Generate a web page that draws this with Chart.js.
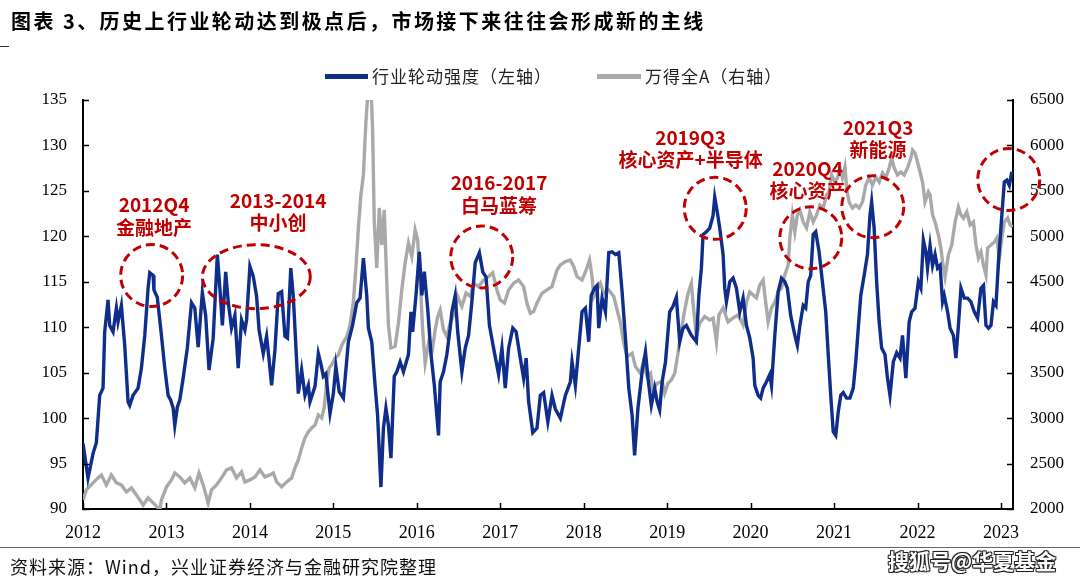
<!DOCTYPE html>
<html>
<head>
<meta charset="utf-8">
<script src="https://cdn.jsdelivr.net/npm/chart.js@4.4.0/dist/chart.umd.min.js"></script>
<style>
  body { margin: 0; background: #fff; }
  #page { position: relative; width: 1080px; height: 583px; overflow: hidden; font-family: "Noto Sans CJK SC", sans-serif; }
  #box { position: absolute; left: 0; top: 0; width: 1080px; height: 583px; }
  .title { position: absolute; left: 11px; top: 11px; font-size: 20px; line-height: 20px; font-weight: bold; letter-spacing: 2.45px; color: #000; white-space: nowrap; }
  .dash { position: absolute; left: 0; top: 46px; width: 9px; height: 1px; background: #333; }
  .legend { position: absolute; top: 66px; font-size: 17px; line-height: 20px; letter-spacing: 1px; color: #222; white-space: nowrap; }
  .swatch { position: absolute; top: 74px; height: 5px; }
  .rule { position: absolute; left: 0; top: 547px; width: 1080px; height: 1px; background: #666; }
  .source { position: absolute; left: 10px; top: 557px; font-size: 18px; line-height: 18px; letter-spacing: 1px; color: #111; white-space: nowrap; }
  .mark { position: absolute; left: 888px; top: 549px; font-size: 21px; line-height: 22px; font-weight: bold; color: #fff; white-space: nowrap;
          text-shadow: -1px -1px 0 #222, 1px -1px 0 #222, -1px 1px 0 #222, 1px 1px 0 #222, 0 0 2px #000; }
</style>
</head>
<body>
<div id="page">
  <div id="box"><canvas id="rotationChart"></canvas></div>
  <div class="title">图表 3、历史上行业轮动达到极点后，市场接下来往往会形成新的主线</div>
  <div class="dash"></div>
  <div class="swatch" style="left:325px;width:43px;background:#0f2d8a;"></div>
  <div class="legend" style="left:372px;">行业轮动强度（左轴）</div>
  <div class="swatch" style="left:597px;width:44px;background:#a9a9a9;"></div>
  <div class="legend" style="left:645px;">万得全A（右轴）</div>
  <div class="rule"></div>
  <div class="source">资料来源：Wind，兴业证券经济与金融研究院整理</div>
  <div class="mark">搜狐号@华夏基金</div>
</div>
<script>
// Industry rotation strength (left axis), dates as decimal years
const rotationDates = [
  2012.00, 2012.06, 2012.12, 2012.16, 2012.20, 2012.24, 2012.26, 2012.30, 2012.32, 2012.36,
  2012.40, 2012.42, 2012.46, 2012.50, 2012.54, 2012.56, 2012.60, 2012.66, 2012.70, 2012.74,
  2012.78, 2012.80, 2012.84, 2012.85, 2012.89, 2012.94, 2012.98, 2013.02, 2013.05, 2013.08,
  2013.10, 2013.13, 2013.16, 2013.20, 2013.25, 2013.30, 2013.34, 2013.38, 2013.43, 2013.47,
  2013.51, 2013.56, 2013.61, 2013.64, 2013.67, 2013.71, 2013.74, 2013.78, 2013.82, 2013.86,
  2013.90, 2013.94, 2013.96, 2014.00, 2014.04, 2014.08, 2014.11, 2014.16, 2014.20, 2014.23,
  2014.26, 2014.30, 2014.34, 2014.38, 2014.42, 2014.45, 2014.49, 2014.52, 2014.58, 2014.62,
  2014.66, 2014.70, 2014.72, 2014.78, 2014.82, 2014.85, 2014.88, 2014.91, 2014.96, 2015.00,
  2015.03, 2015.07, 2015.12, 2015.18, 2015.23, 2015.28, 2015.32, 2015.36, 2015.40, 2015.42,
  2015.46, 2015.50, 2015.53, 2015.57, 2015.60, 2015.63, 2015.66, 2015.69, 2015.73, 2015.76,
  2015.80, 2015.84, 2015.90, 2015.93, 2015.95, 2015.99, 2016.03, 2016.06, 2016.09, 2016.13,
  2016.17, 2016.21, 2016.26, 2016.28, 2016.32, 2016.36, 2016.40, 2016.42, 2016.46, 2016.49,
  2016.54, 2016.58, 2016.62, 2016.66, 2016.70, 2016.75, 2016.79, 2016.83, 2016.87, 2016.92,
  2016.98, 2017.02, 2017.06, 2017.10, 2017.15, 2017.19, 2017.24, 2017.28, 2017.31, 2017.34,
  2017.39, 2017.44, 2017.48, 2017.52, 2017.57, 2017.62, 2017.66, 2017.72, 2017.78, 2017.84,
  2017.86, 2017.90, 2017.94, 2017.98, 2018.02, 2018.06, 2018.09, 2018.13, 2018.16, 2018.18,
  2018.22, 2018.26, 2018.30, 2018.34, 2018.38, 2018.42, 2018.46, 2018.50, 2018.54, 2018.58,
  2018.61, 2018.65, 2018.70, 2018.74, 2018.77, 2018.81, 2018.85, 2018.88, 2018.91, 2018.94,
  2018.98, 2019.03, 2019.07, 2019.11, 2019.15, 2019.19, 2019.23, 2019.29, 2019.35, 2019.38,
  2019.41, 2019.43, 2019.47, 2019.51, 2019.55, 2019.57, 2019.60, 2019.63, 2019.67, 2019.69,
  2019.71, 2019.75, 2019.79, 2019.83, 2019.87, 2019.91, 2019.95, 2019.99, 2020.03, 2020.05,
  2020.09, 2020.12, 2020.15, 2020.19, 2020.23, 2020.25, 2020.29, 2020.33, 2020.37, 2020.41,
  2020.44, 2020.48, 2020.53, 2020.56, 2020.59, 2020.63, 2020.66, 2020.69, 2020.72, 2020.75,
  2020.78, 2020.82, 2020.86, 2020.90, 2020.93, 2020.96, 2020.99, 2021.02, 2021.05, 2021.08,
  2021.11, 2021.15, 2021.19, 2021.23, 2021.26, 2021.29, 2021.32, 2021.36, 2021.40, 2021.43,
  2021.45, 2021.48, 2021.51, 2021.54, 2021.57, 2021.61, 2021.64, 2021.67, 2021.71, 2021.75,
  2021.79, 2021.82, 2021.86, 2021.90, 2021.93, 2021.97, 2022.01, 2022.04, 2022.07, 2022.10,
  2022.12, 2022.15, 2022.18, 2022.21, 2022.24, 2022.27, 2022.30, 2022.32, 2022.36, 2022.39,
  2022.43, 2022.46, 2022.49, 2022.52, 2022.56, 2022.60, 2022.64, 2022.68, 2022.72, 2022.76,
  2022.79, 2022.82, 2022.85, 2022.88, 2022.91, 2022.94, 2022.97, 2023.01, 2023.04, 2023.07,
  2023.10, 2023.13
];
const rotationValues = [
  97.2, 93.4, 96.1, 97.3, 102.5, 103.3, 109.5, 113.0, 110.2, 109.5,
  112.1, 110.6, 112.4, 108.0, 101.8, 101.4, 102.5, 103.3, 105.5, 109.1,
  114.3, 116.0, 115.7, 114.1, 113.3, 109.1, 105.5, 102.5, 102.0, 101.1,
  99.2, 101.2, 102.0, 104.4, 107.7, 112.7, 112.1, 107.8, 113.8, 111.3,
  105.3, 108.8, 118.0, 114.3, 110.2, 116.1, 112.8, 109.9, 111.3, 105.5,
  110.8, 109.7, 110.8, 116.7, 115.6, 113.4, 109.7, 107.1, 109.0, 106.4,
  103.6, 107.5, 113.7, 113.9, 109.0, 108.8, 116.5, 113.4, 102.7, 105.3,
  102.5, 103.6, 101.8, 103.5, 107.1, 106.0, 104.6, 104.9, 100.5, 102.7,
  105.7, 102.9, 102.2, 108.4, 110.2, 112.7, 113.2, 117.6, 113.5, 109.9,
  108.4, 103.6, 100.3, 92.4, 98.9, 101.1, 99.2, 95.6, 104.6, 105.1,
  106.2, 105.1, 107.0, 111.7, 109.5, 113.5, 118.3, 113.5, 116.1, 112.1,
  107.0, 103.6, 98.1, 104.0, 105.1, 107.0, 109.9, 111.7, 113.5, 109.5,
  105.1, 107.7, 109.1, 112.8, 117.1, 118.2, 116.1, 115.5, 110.2, 107.7,
  104.8, 107.7, 103.3, 107.7, 109.9, 109.5, 106.6, 104.4, 106.6, 101.8,
  98.4, 98.9, 102.5, 102.8, 99.6, 102.5, 101.0, 100.0, 102.5, 104.0,
  106.2, 103.6, 107.7, 111.7, 112.1, 108.4, 113.5, 114.3, 114.6, 109.9,
  113.2, 111.7, 118.2, 118.3, 118.0, 118.2, 113.9, 108.8, 103.3, 100.3,
  95.9, 101.1, 105.1, 107.3, 104.4, 101.4, 103.3, 101.8, 100.9, 104.0,
  106.2, 111.7, 112.3, 113.3, 108.4, 109.9, 110.2, 109.1, 108.4, 113.5,
  116.5, 120.2, 120.5, 120.9, 122.3, 124.3, 122.7, 120.9, 118.0, 114.3,
  112.8, 115.0, 115.4, 114.3, 111.7, 113.2, 110.2, 108.8, 106.6, 103.6,
  102.5, 102.2, 103.3, 104.0, 104.8, 103.6, 109.1, 113.9, 115.4, 115.0,
  114.3, 111.3, 109.1, 108.0, 110.2, 112.4, 112.1, 115.0, 115.7, 120.2,
  120.5, 118.3, 115.0, 111.7, 107.0, 102.5, 98.5, 98.1, 100.7, 102.5,
  102.8, 102.2, 102.2, 103.3, 106.2, 109.9, 113.5, 115.7, 118.0, 122.3,
  123.8, 120.9, 115.0, 110.6, 107.7, 107.0, 104.4, 102.5, 106.2, 107.2,
  106.6, 109.1, 104.4, 110.6, 111.7, 112.1, 115.0, 114.3, 119.6, 118.3,
  116.5, 119.0, 116.8, 118.0, 116.5, 116.8, 112.8, 113.5, 111.7, 109.9,
  109.1, 106.6, 110.2, 114.3, 113.2, 113.2, 112.8, 111.7, 111.0, 114.3,
  114.6, 110.2, 109.9, 110.2, 112.8, 112.4, 117.2, 122.3, 126.0, 126.2,
  125.6, 127.1
];

// Wind All A index (right axis)
const windDates = [
  2012.00, 2012.04, 2012.12, 2012.18, 2012.22, 2012.28, 2012.34, 2012.40, 2012.46, 2012.52,
  2012.58, 2012.64, 2012.68, 2012.72, 2012.78, 2012.84, 2012.90, 2012.92, 2012.94, 2013.00,
  2013.06, 2013.10, 2013.16, 2013.22, 2013.28, 2013.34, 2013.39, 2013.44, 2013.50, 2013.54,
  2013.60, 2013.66, 2013.72, 2013.78, 2013.84, 2013.90, 2013.94, 2014.00, 2014.06, 2014.12,
  2014.18, 2014.24, 2014.28, 2014.32, 2014.38, 2014.44, 2014.50, 2014.54, 2014.58, 2014.62,
  2014.66, 2014.70, 2014.74, 2014.78, 2014.82, 2014.86, 2014.89, 2014.92, 2014.95, 2014.98,
  2015.02, 2015.06, 2015.09, 2015.12, 2015.16, 2015.20, 2015.24, 2015.27, 2015.30, 2015.33,
  2015.36, 2015.39, 2015.42, 2015.45, 2015.47, 2015.49, 2015.52, 2015.55, 2015.58, 2015.61,
  2015.64, 2015.66, 2015.69, 2015.74, 2015.78, 2015.82, 2015.86, 2015.90, 2015.94, 2015.98,
  2016.01, 2016.04, 2016.07, 2016.10, 2016.14, 2016.18, 2016.22, 2016.25, 2016.28, 2016.32,
  2016.36, 2016.40, 2016.45, 2016.49, 2016.54, 2016.59, 2016.64, 2016.68, 2016.74, 2016.80,
  2016.86, 2016.91, 2016.96, 2017.00, 2017.05, 2017.10, 2017.16, 2017.22, 2017.28, 2017.32,
  2017.36, 2017.40, 2017.44, 2017.50, 2017.56, 2017.62, 2017.68, 2017.72, 2017.78, 2017.84,
  2017.88, 2017.92, 2017.98, 2018.03, 2018.07, 2018.10, 2018.12, 2018.16, 2018.20, 2018.24,
  2018.30, 2018.36, 2018.40, 2018.44, 2018.48, 2018.52, 2018.58, 2018.62, 2018.68, 2018.71,
  2018.76, 2018.80, 2018.83, 2018.88, 2018.94, 2018.97, 2019.01, 2019.05, 2019.09, 2019.13,
  2019.17, 2019.21, 2019.25, 2019.29, 2019.31, 2019.35, 2019.39, 2019.45, 2019.51, 2019.55,
  2019.59, 2019.62, 2019.67, 2019.73, 2019.79, 2019.85, 2019.91, 2019.95, 2019.99, 2020.03,
  2020.07, 2020.11, 2020.15, 2020.18, 2020.21, 2020.25, 2020.29, 2020.33, 2020.37, 2020.41,
  2020.45, 2020.47, 2020.50, 2020.53, 2020.56, 2020.59, 2020.63, 2020.67, 2020.71, 2020.75,
  2020.79, 2020.83, 2020.87, 2020.91, 2020.94, 2020.97, 2021.01, 2021.04, 2021.07, 2021.10,
  2021.13, 2021.15, 2021.18, 2021.22, 2021.26, 2021.30, 2021.34, 2021.38, 2021.42, 2021.46,
  2021.50, 2021.54, 2021.58, 2021.62, 2021.66, 2021.69, 2021.72, 2021.76, 2021.80, 2021.84,
  2021.88, 2021.92, 2021.94, 2021.97, 2022.00, 2022.03, 2022.06, 2022.09, 2022.13, 2022.15,
  2022.18, 2022.21, 2022.25, 2022.28, 2022.30, 2022.33, 2022.37, 2022.41, 2022.45, 2022.49,
  2022.52, 2022.55, 2022.59, 2022.63, 2022.67, 2022.70, 2022.73, 2022.76, 2022.79, 2022.82,
  2022.84, 2022.88, 2022.92, 2022.95, 2022.98, 2023.01, 2023.04, 2023.08, 2023.11, 2023.14
];
const windValues = [
  2100, 2210, 2287, 2342, 2375, 2265, 2375, 2287, 2265, 2188,
  2232, 2155, 2100, 2045, 2122, 2067, 2012, 1990, 2100, 2243,
  2320, 2397, 2353, 2287, 2342, 2232, 2397, 2265, 2067, 2210,
  2265, 2342, 2430, 2452, 2342, 2408, 2298, 2320, 2353, 2430,
  2353, 2375, 2397, 2298, 2243, 2298, 2342, 2452, 2540, 2672,
  2782, 2848, 2892, 2925, 3035, 3002, 3112, 3398, 3552, 3585,
  3662, 3695, 3772, 3838, 3893, 4025, 4278, 4652, 5092, 5455,
  5675, 6258, 6650, 6650, 6192, 5158, 4652, 5312, 4905, 5290,
  4498, 4025, 3772, 3790, 4047, 4410, 4707, 4927, 4777, 5070,
  4960, 4520, 3970, 3607, 3823, 3717, 3970, 4117, 4190, 3970,
  3897, 4047, 4157, 4337, 4227, 4377, 4340, 4483, 4447, 4520,
  4557, 4597, 4410, 4300, 4267, 4410, 4483, 4520, 4447, 4263,
  4153, 4172, 4267, 4373, 4410, 4447, 4630, 4685, 4722, 4740,
  4667, 4557, 4520, 4630, 4740, 4557, 4337, 4410, 4483, 4373,
  4410, 4337, 4190, 4047, 3823, 3677, 3713, 3567, 3493, 3603,
  3457, 3493, 3310, 3383, 3402, 3273, 3383, 3420, 3493, 3713,
  3970, 4190, 4373, 4483, 4263, 3897, 4043, 4117, 4080, 4100,
  3840, 4135, 4212, 4058, 4102, 4135, 4025, 4278, 4388, 4355,
  4322, 4465, 4520, 4278, 4058, 4212, 4278, 4388, 4432, 4575,
  4685, 4982, 5235, 5048, 5235, 5290, 5158, 5092, 5268, 5158,
  5235, 5345, 5312, 5455, 5488, 5675, 5598, 5642, 5752, 5642,
  5763, 5532, 5378, 5312, 5345, 5312, 5378, 5565, 5642, 5565,
  5653, 5598, 5697, 5642, 5752, 5862, 5752, 5675, 5708, 5675,
  5752, 5862, 5950, 5917, 5818, 5708, 5598, 5378, 5488, 5455,
  5235, 5158, 5015, 4872, 4718, 4553, 4795, 4905, 5158, 5323,
  5235, 5200, 5268, 5125, 5158, 4905, 4762, 4828, 4685, 4575,
  4872, 4905, 4938, 4982, 4762, 4982, 5158, 5202, 5125, 5103
];

const yearTicks = [2012, 2013, 2014, 2015, 2016, 2017, 2018, 2019, 2020, 2021, 2022, 2023];

// Highlighted episodes: circle centre and label position in (year, left-axis) units
const highlights = [
  { x: 2012.823, y: 115.69, rx: 31, ry: 31, tx: 2012.851, ty: 123.45, lines: ["2012Q4", "金融地产"] },
  { x: 2014.077, y: 115.56, rx: 54, ry: 32, tx: 2014.337, ty: 123.94, lines: ["2013-2014", "中小创"] },
  { x: 2016.778, y: 117.73, rx: 31, ry: 31, tx: 2016.985, ty: 125.87, lines: ["2016-2017", "白马蓝筹"] },
  { x: 2019.576, y: 123.08, rx: 31, ry: 31, tx: 2019.280, ty: 130.87, lines: ["2019Q3", "核心资产+半导体"] },
  { x: 2020.721, y: 119.84, rx: 31, ry: 31, tx: 2020.682, ty: 127.46, lines: ["2020Q4", "核心资产"] },
  { x: 2021.464, y: 123.26, rx: 31, ry: 31, tx: 2021.527, ty: 131.97, lines: ["2021Q3", "新能源"] },
  { x: 2023.093, y: 126.25, rx: 31, ry: 31, lines: [] }
];

const rotationPoints = rotationDates.map((d, i) => ({ x: d, y: rotationValues[i] }));
const windPoints = windDates.map((d, i) => ({ x: d, y: windValues[i] }));

// short tick marks pointing into the plot
const innerTicks = {
  id: "innerTicks",
  afterDraw(chart) {
    const { ctx, chartArea, scales } = chart;
    ctx.save();
    ctx.strokeStyle = "#000";
    ctx.lineWidth = 1.5;
    ctx.beginPath();
    scales.x.ticks.forEach((t) => {
      const px = Math.round(scales.x.getPixelForValue(t.value)) + 0.5;
      ctx.moveTo(px, chartArea.bottom);
      ctx.lineTo(px, chartArea.bottom - 6);
    });
    scales.y.ticks.forEach((t) => {
      const py = Math.round(scales.y.getPixelForValue(t.value)) + 0.5;
      ctx.moveTo(chartArea.left, py);
      ctx.lineTo(chartArea.left + 6, py);
    });
    scales.y1.ticks.forEach((t) => {
      const py = Math.round(scales.y1.getPixelForValue(t.value)) + 0.5;
      ctx.moveTo(chartArea.right, py);
      ctx.lineTo(chartArea.right - 6, py);
    });
    ctx.stroke();
    ctx.restore();
  },
};

// red dashed circles and captions
const episodeMarks = {
  id: "episodeMarks",
  afterDatasetsDraw(chart) {
    const { ctx, scales } = chart;
    ctx.save();
    ctx.strokeStyle = "#c00000";
    ctx.fillStyle = "#c00000";
    ctx.lineWidth = 3;
    ctx.setLineDash([9, 5]);
    highlights.forEach((h) => {
      const cx = scales.x.getPixelForValue(h.x);
      const cy = scales.y.getPixelForValue(h.y);
      ctx.beginPath();
      ctx.ellipse(cx, cy, h.rx, h.ry, 0, 0, Math.PI * 2);
      ctx.stroke();
    });
    ctx.setLineDash([]);
    ctx.font = 'bold 19px "Noto Sans CJK SC"';
    ctx.textAlign = "center";
    ctx.textBaseline = "middle";
    highlights.forEach((h) => {
      if (!h.lines.length) return;
      const tx = scales.x.getPixelForValue(h.tx);
      const ty = scales.y.getPixelForValue(h.ty);
      h.lines.forEach((line, i) => ctx.fillText(line, tx, ty + i * 22.5));
    });
    ctx.restore();
  },
};

const tickFont = { family: "Liberation Serif", size: 17 };

new Chart(document.getElementById("rotationChart").getContext("2d"), {
  type: "line",
  data: {
    datasets: [
      {
        label: "行业轮动强度（左轴）",
        data: rotationPoints,
        borderColor: "#0f2d8a",
        borderWidth: 3.4,
        pointRadius: 0,
        tension: 0,
        yAxisID: "y",
      },
      {
        label: "万得全A（右轴）",
        data: windPoints,
        borderColor: "#a9a9a9",
        borderWidth: 3.4,
        pointRadius: 0,
        tension: 0,
        yAxisID: "y1",
      },
    ],
  },
  options: {
    responsive: true,
    maintainAspectRatio: false,
    animation: false,
    events: [],
    layout: { padding: { top: 100, left: 0, right: 0, bottom: 0 } },
    scales: {
      x: {
        type: "linear",
        min: 2012,
        max: 2023.144,
        afterBuildTicks: (scale) => {
          scale.ticks = yearTicks.map((v) => ({ value: v }));
        },
        afterFit: (scale) => { scale.height = 74; },
        grid: { drawOnChartArea: false, drawTicks: false },
        border: { color: "#000", width: 2 },
        ticks: {
          autoSkip: false,
          maxRotation: 0,
          padding: 13,
          color: "#000",
          font: { family: "Liberation Serif", size: 18 },
          callback: (v) => String(v),
        },
      },
      y: {
        position: "left",
        min: 90,
        max: 135,
        afterFit: (scale) => { scale.width = 83; },
        grid: { drawOnChartArea: false, drawTicks: false },
        border: { color: "#000", width: 2 },
        ticks: { stepSize: 5, padding: 16, color: "#000", font: tickFont },
      },
      y1: {
        position: "right",
        min: 2000,
        max: 6500,
        afterFit: (scale) => { scale.width = 67; },
        grid: { drawOnChartArea: false, drawTicks: false },
        border: { color: "#000", width: 2 },
        ticks: { stepSize: 500, padding: 17, color: "#000", font: tickFont, callback: (v) => String(v) },
      },
    },
    plugins: {
      legend: { display: false },
      tooltip: { enabled: false },
      title: { display: false },
    },
  },
  plugins: [innerTicks, episodeMarks],
});
</script>
</body>
</html>
